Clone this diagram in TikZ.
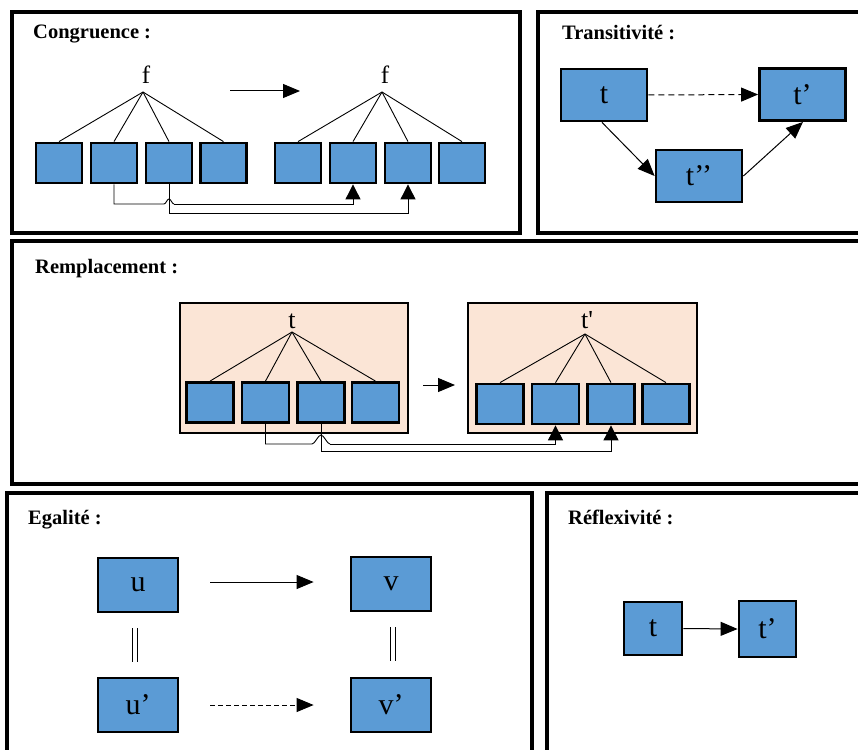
\documentclass[tikz,border=0pt]{standalone}
\usepackage{fontspec}
\setmainfont{Liberation Serif}
\usetikzlibrary{arrows.meta}
\definecolor{boxblue}{HTML}{5B9BD5}
\definecolor{peach}{HTML}{FBE5D6}
\tikzset{
  panel/.style={draw=black, line width=3.5pt},
  ptitle/.style={anchor=base west, inner sep=0pt, font=\fontsize{20.5}{23}\selectfont\bfseries},
  sq/.style={draw=black, fill=boxblue, line width=2.8pt, inner sep=0pt},
  sqa/.style={sq, minimum width=46pt, minimum height=40pt},
  lbl/.style={font=\fontsize{30}{32}\selectfont},
  conn/.style={line width=0.9pt},
  arr/.style={line width=1pt, -{Triangle[length=17pt,width=14pt]}},
  sarr/.style={line width=0.9pt, -{Triangle[length=15pt,width=15pt]}},
  peachbox/.style={draw=black, fill=peach, line width=2.8pt},
}
\begin{document}
\begin{tikzpicture}[x=1pt,y=-1pt]
\useasboundingbox (0,0) rectangle (858,749);
\clip (0,0) rectangle (858,749);
\fill[white] (0,0) rectangle (858,749);

% ---------- panels ----------
\draw[panel] (12,12) rectangle (520,233);
\draw[panel] (538,12) rectangle (880,233);
\draw[panel] (12,241) rectangle (880,484);
\draw[panel] (7,493) rectangle (532,770);
\draw[panel] (547,493) rectangle (880,770);

\node[ptitle] (tcong) at (33,39) {Congruence :};
\node[ptitle] (ttrans) at (562,40) {Transitivité :};
\node[ptitle] (trempl) at (35,273) {Remplacement :};
\node[ptitle] (tegal) at (28,524) {Egalité :};
\node[ptitle] (trefl) at (568,524) {Réflexivité :};

% ---------- Congruence ----------
\coordinate (fa) at (143,92);
\coordinate (fb) at (382,92);
\node[font=\fontsize{25}{27}\selectfont, anchor=base, inner sep=0pt] (fl) at (146,84) {f};
\node[font=\fontsize{25}{27}\selectfont, anchor=base, inner sep=0pt] (fr) at (385,84) {f};
\node[sqa] (a1) at (59,163) {};
\node[sqa] (a2) at (114,163) {};
\node[sqa] (a3) at (169,163) {};
\node[sqa] (a4) at (223.5,163) {};
\node[sqa] (b1) at (298,163) {};
\node[sqa] (b2) at (353,163) {};
\node[sqa] (b3) at (408,163) {};
\node[sqa] (b4) at (462,163) {};
\foreach \n in {a1,a2,a3,a4} \draw[conn] (fa) -- (\n.north);
\foreach \n in {b1,b2,b3,b4} \draw[conn] (fb) -- (\n.north);
\coordinate (cm1) at (230,91);
\coordinate (cm2) at (300,91);
\draw[arr] (cm1) -- (cm2);
\coordinate (y2) at (0,213);
\coordinate (h1) at (164,204);
\coordinate (h2) at (174,204);
\draw[conn] (a2.south) |- (h1) .. controls (166,204) and (167,199) .. (169,199)
  .. controls (171,199) and (172,204) .. (h2);
\draw[sarr] (h2) -| (b2.south);
\draw[sarr] (a3.south) |- (y2 -| b3.south) -- (b3.south);

% ---------- Transitivité ----------
\node[sq, minimum width=86pt, minimum height=52pt, lbl] (tt) at (604,95) {t};
\node[sq, minimum width=86pt, minimum height=52pt, lbl] (ttp) at (802.5,94.5) {t’};
\node[sq, minimum width=86pt, minimum height=52pt, lbl] (ttpp) at (699,176) {t’’};
\draw[arr, dash pattern=on 6pt off 4pt] (tt.east) -- (ttp.west);
\draw[arr] ([xshift=-2pt]tt.south) -- (ttpp.west);
\draw[arr] (ttpp.east) -- ([xshift=0.5pt]ttp.south);

% ---------- Remplacement ----------
\draw[peachbox] (180,303) rectangle (408,433);
\draw[peachbox] (468,303) rectangle (697,433);
\coordinate (ra) at (292,332);
\coordinate (rb) at (585,334);
\node[font=\fontsize{26}{28}\selectfont, anchor=base, inner sep=0pt] (rtl) at (292,328) {t};
\node[font=\fontsize{26}{28}\selectfont, anchor=base, inner sep=0pt] (rtr) at (587,328) {t\textquotesingle};
\node[sqa, minimum width=47pt] (c1) at (210,402.5) {};
\node[sqa, minimum width=47pt] (c2) at (265.5,402.5) {};
\node[sqa, minimum width=47pt] (c3) at (321,402.5) {};
\node[sqa, minimum width=47pt] (c4) at (375.5,402.5) {};
\node[sqa, minimum width=47pt] (d1) at (500,404) {};
\node[sqa, minimum width=47pt] (d2) at (555.5,404) {};
\node[sqa, minimum width=47pt] (d3) at (611,404) {};
\node[sqa, minimum width=47pt] (d4) at (666,404) {};
\foreach \n in {c1,c2,c3,c4} \draw[conn] (ra) -- (\n.north);
\foreach \n in {d1,d2,d3,d4} \draw[conn] (rb) -- (\n.north);
\coordinate (rm1) at (423,385);
\coordinate (rm2) at (455,385);
\draw[arr] (rm1) -- (rm2);
\coordinate (ry2) at (0,451);
\coordinate (k1) at (312,444);
\coordinate (k2) at (330,444);
\draw[conn] (c2.south) |- (k1) .. controls (315,444) and (318,435) .. (321,435)
  .. controls (324,435) and (327,444) .. (k2);
\draw[sarr] (k2) -| (d2.south);
\draw[sarr] (c3.south) |- (ry2 -| d3.south) -- (d3.south);

% ---------- Egalité ----------
\tikzset{eq/.style={sq, minimum width=80pt, minimum height=54pt, font=\fontsize{30}{32}\selectfont}}
\node[eq] (u) at (138,585) {u};
\node[eq] (v) at (391,584) {v};
\node[eq] (up) at (138,705) {u’};
\node[eq] (vp) at (391,705) {v’};
\coordinate (ey) at (0,582);
\draw[arr, shorten <=31pt, shorten >=36pt] (u.east |- ey) -- (v.west |- ey);
\draw[arr, dash pattern=on 5pt off 3pt, shorten <=31pt, shorten >=36pt] (up.east) -- (vp.west);
\draw[line width=0.9pt, shorten <=15pt, shorten >=15pt] ([xshift=-6pt]u.south) -- ([xshift=-6pt]up.north);
\draw[line width=0.9pt, shorten <=15pt, shorten >=15pt] ([xshift=-1pt]u.south) -- ([xshift=-1pt]up.north);
\draw[line width=0.9pt, shorten <=15pt, shorten >=16pt] ([xshift=-1pt]v.south) -- ([xshift=-1pt]vp.north);
\draw[line width=0.9pt, shorten <=15pt, shorten >=16pt] ([xshift=4pt]v.south) -- ([xshift=4pt]vp.north);

% ---------- Réflexivité ----------
\node[sq, minimum width=58pt, minimum height=53pt, lbl] (rt) at (653,628.5) {t};
\node[sq, minimum width=57pt, minimum height=56pt, lbl] (rtp) at (767.5,629) {t’};
\draw[arr] (rt.east) -- (rtp.west);
\end{tikzpicture}
\end{document}
